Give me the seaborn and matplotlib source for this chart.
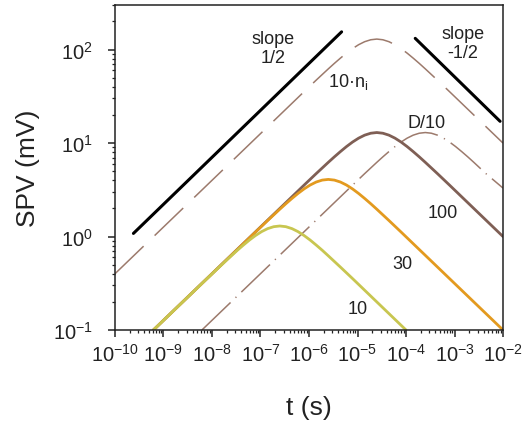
import numpy as np
import pandas as pd
import matplotlib
matplotlib.use("Agg")
import matplotlib.pyplot as plt
from matplotlib.ticker import LogLocator, NullFormatter, LogFormatterSciNotation
import seaborn as sns

# ---- data (t in s, SPV in mV) ----
t_10 = [6.2e-10, 7.91e-9, 1.406e-8, 2.5e-8, 3.335e-8, 4.445e-8, 5.928e-8, 7.905e-8, 1.054e-7,
        1.406e-7, 1.875e-7, 2.5e-7, 3.335e-7, 4.445e-7, 5.928e-7, 7.905e-7, 1.054e-6, 1.406e-6,
        1.875e-6, 2.5e-6, 4.445e-6, 7.905e-6, 1.0e-4]
v_10 = [0.1, 0.355, 0.471, 0.622, 0.713, 0.811, 0.918, 1.026, 1.129, 1.216, 1.275, 1.297, 1.275,
        1.216, 1.129, 1.026, 0.918, 0.811, 0.713, 0.622, 0.471, 0.355, 0.1]

t_30 = [6.2e-10, 7.91e-8, 1.406e-7, 2.5e-7, 3.335e-7, 4.445e-7, 5.928e-7, 7.905e-7, 1.054e-6,
        1.406e-6, 1.875e-6, 2.5e-6, 3.335e-6, 4.445e-6, 5.928e-6, 7.905e-6, 1.054e-5, 1.406e-5,
        1.875e-5, 2.5e-5, 4.445e-5, 7.905e-5, 1.0e-2]
v_30 = [0.1, 1.118, 1.485, 1.961, 2.245, 2.555, 2.890, 3.231, 3.556, 3.831, 4.018, 4.086, 4.018,
        3.831, 3.556, 3.231, 2.890, 2.555, 2.245, 1.961, 1.485, 1.118, 0.1]

t_100 = [6.2e-10, 7.91e-7, 1.406e-6, 2.5e-6, 3.335e-6, 4.445e-6, 5.928e-6, 7.905e-6, 1.054e-5,
         1.406e-5, 1.875e-5, 2.5e-5, 3.335e-5, 4.445e-5, 5.928e-5, 7.905e-5, 1.054e-4, 1.406e-4,
         1.875e-4, 2.5e-4, 4.445e-4, 7.905e-4, 1.0e-2]
v_100 = [0.1, 3.548, 4.714, 6.224, 7.126, 8.11, 9.176, 10.26, 11.29, 12.16, 12.75, 12.97, 12.75,
         12.16, 11.29, 10.26, 9.176, 8.11, 7.126, 6.224, 4.714, 3.548, 1.0]

t_ni = [1.0e-10, 7.91e-7, 1.406e-6, 2.5e-6, 3.335e-6, 4.445e-6, 5.928e-6, 7.905e-6, 1.054e-5,
        1.406e-5, 1.875e-5, 2.5e-5, 3.335e-5, 4.445e-5, 5.928e-5, 7.905e-5, 1.054e-4, 1.406e-4,
        1.875e-4, 2.5e-4, 4.445e-4, 7.905e-4, 1.0e-2]
v_ni = [0.40, 35.48, 47.14, 62.24, 71.26, 81.1, 91.76, 102.6, 112.9, 121.6, 127.5, 129.7, 127.5,
        121.6, 112.9, 102.6, 91.76, 81.1, 71.26, 62.24, 47.14, 35.48, 10.0]

t_d10 = [6.2e-9, 7.91e-6, 1.406e-5, 2.5e-5, 3.335e-5, 4.445e-5, 5.928e-5, 7.905e-5, 1.054e-4,
         1.406e-4, 1.875e-4, 2.5e-4, 3.335e-4, 4.445e-4, 5.928e-4, 7.905e-4, 1.054e-3, 1.406e-3,
         1.875e-3, 2.5e-3, 4.445e-3, 1.0e-2]
v_d10 = [0.1, 3.548, 4.714, 6.224, 7.126, 8.11, 9.176, 10.26, 11.29, 12.16, 12.75, 12.97, 12.75,
         12.16, 11.29, 10.26, 9.176, 8.11, 7.126, 6.224, 4.714, 3.3]

t_slope_up = [2.4e-10, 4.7e-6]
v_slope_up = [1.08, 155.0]
t_slope_down = [1.55e-4, 8.7e-3]
v_slope_down = [132.0, 17.1]

labels = ["10", "30", "100", "10·n$_\\mathregular{i}$", "D/10"]

sns.set_style("ticks")
plt.rcParams["font.family"] = ["Liberation Sans", "DejaVu Sans"]
plt.rcParams["mathtext.fontset"] = "custom"
plt.rcParams["mathtext.rm"] = "Liberation Sans"
plt.rcParams["mathtext.it"] = "Liberation Sans:italic"
plt.rcParams["mathtext.bf"] = "Liberation Sans:bold"

fig = plt.figure(figsize=(5.26, 4.31), dpi=100)
ax = fig.add_axes([0.2186, 0.232, 0.9563 - 0.2186, 0.986 - 0.232])

def draw(t, v, **kw):
    df = pd.DataFrame({"t": t, "v": v})
    sns.lineplot(data=df, x="t", y="v", ax=ax, sort=False, estimator=None, **kw)

draw(t_ni, v_ni, color="#9c7a6c", lw=1.1, linestyle=(0, (26, 10)))
draw(t_d10, v_d10, color="#9c7a6c", lw=1.1, linestyle=(0, (26, 4.5, 0.8, 4.5)))
draw(t_100, v_100, color="#7f5f55", lw=2.0)
draw(t_30, v_30, color="#e39a1f", lw=2.0)
draw(t_10, v_10, color="#c8c650", lw=2.0)
draw(t_slope_up, v_slope_up, color="black", lw=2.2)
draw(t_slope_down, v_slope_down, color="black", lw=2.2)

ax.set_xscale("log")
ax.set_yscale("log")
ax.set_xlim(1e-10, 1e-2)
ax.set_ylim(0.1, 300)

ax.xaxis.set_major_locator(LogLocator(base=10, numticks=20))
ax.xaxis.set_minor_locator(LogLocator(base=10, subs=np.arange(2, 10), numticks=200))
ax.yaxis.set_major_locator(LogLocator(base=10, numticks=20))
ax.yaxis.set_minor_locator(LogLocator(base=10, subs=np.arange(2, 10), numticks=200))
ax.xaxis.set_major_formatter(LogFormatterSciNotation())
ax.yaxis.set_major_formatter(LogFormatterSciNotation())
ax.xaxis.set_minor_formatter(NullFormatter())
ax.yaxis.set_minor_formatter(NullFormatter())

ax.tick_params(axis="both", which="major", direction="out", length=5, width=1.1,
               labelsize=14.5, color="#222222", labelcolor="#222222")
ax.tick_params(axis="both", which="minor", direction="out", length=2.5, width=0.9, color="#222222")
ax.tick_params(axis="y", which="major", pad=11)
ax.tick_params(axis="x", which="major", pad=4)
for s in ax.spines.values():
    s.set_linewidth(1.1)
    s.set_color("#222222")

ax.set_xlabel("t (s)", fontsize=19, labelpad=22, color="#222222")
ax.set_ylabel("SPV (mV)", fontsize=19, labelpad=9, color="#222222")

tc = "#222222"
fs = 13
ax.text(1.8e-7, 105, "slope\n1/2", ha="center", va="center", fontsize=fs, color=tc, linespacing=1.15)
ax.text(1.5e-3, 118, "slope\n-1/2", ha="center", va="center", fontsize=fs, color=tc, linespacing=1.15)
ax.text(6.3e-6, 46, labels[3], ha="center", va="center", fontsize=fs, color=tc)
ax.text(2.7e-4, 16.8, labels[4], ha="center", va="center", fontsize=fs, color=tc)
ax.text(5.8e-4, 1.83, labels[2], ha="center", va="center", fontsize=fs, color=tc)
ax.text(8.3e-5, 0.51, labels[1], ha="center", va="center", fontsize=fs, color=tc)
ax.text(1.0e-5, 0.168, labels[0], ha="center", va="center", fontsize=fs, color=tc)

fig.savefig("out.png", dpi=100)
